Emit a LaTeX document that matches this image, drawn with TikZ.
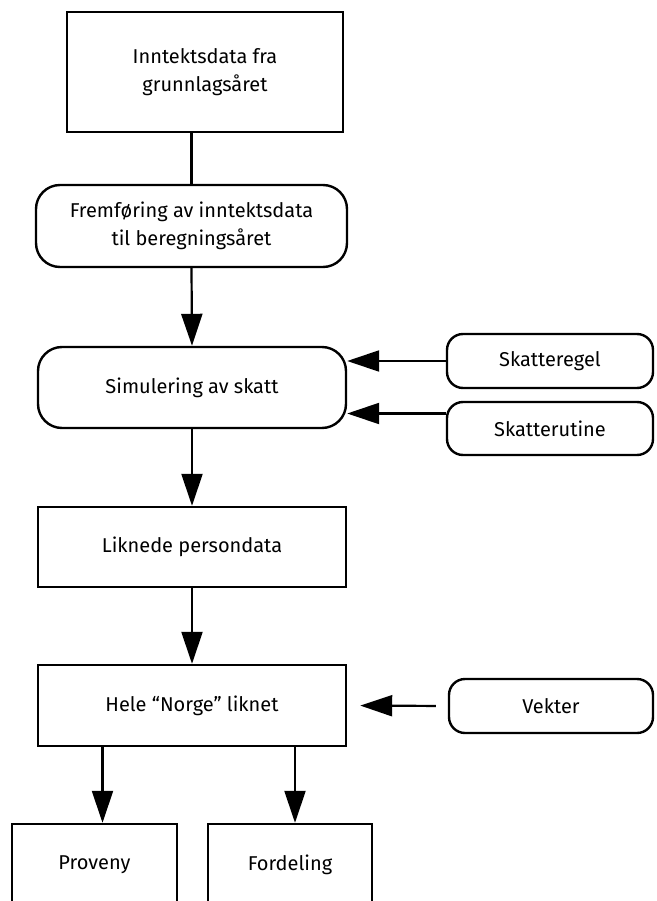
\documentclass[tikz,border=0pt]{standalone}
\usepackage{fontspec}
\setmainfont{Fira Sans}
\usetikzlibrary{arrows.meta, positioning}

\begin{document}
\begin{tikzpicture}[x=1pt, y=-1pt,
    box/.style={draw, line width=2.4pt, align=center, inner sep=0pt,
        font=\fontsize{20}{28}\selectfont},
    rbox/.style={box, rounded corners=24pt},
    sbox/.style={box, rounded corners=16pt},
    arr/.style={line width=2.2pt, -{Triangle[length=32pt, width=21pt]}}]
    \useasboundingbox (0, 0) rectangle (656, 901);

    % main column
    \node[box, minimum width=276pt, minimum height=120pt] (inn) at (205, 72)
        {Inntektsdata fra\\grunnlagsåret};
    \node[rbox, minimum width=311pt, minimum height=82pt] (frem) at (191.5, 226)
        {Fremføring av inntektsdata\\til beregningsåret};
    \node[rbox, minimum width=308pt, minimum height=81pt] (sim) at (192, 387.5)
        {Simulering av skatt};
    \node[box, minimum width=308pt, minimum height=80pt] (likn) at (192, 547)
        {Liknede persondata};
    \node[box, minimum width=308pt, minimum height=81pt] (hele) at (192, 705.5)
        {Hele “Norge” liknet};

    % inputs on the right
    \node[sbox, minimum width=206pt, minimum height=54pt] (regel) at (550, 361)
        {Skatteregel};
    \node[sbox, minimum width=206pt, minimum height=53pt] (rutine) at (550, 428.5)
        {Skatterutine};
    \node[sbox, minimum width=204pt, minimum height=54pt] (vekter) at (551, 706)
        {Vekter};

    % results, cut off by the page
    \node[box, minimum width=165pt, minimum height=82pt] (prov) at (94.5, 865)
        {Proveny};
    \node[box, minimum width=164pt, minimum height=82pt] (ford) at (290, 865)
        {Fordeling};

    \draw[line width=2.2pt] (frem.north |- inn.south) -- (frem.north);
    \draw[arr] (frem.south) -- (sim.north);
    \draw[arr] (sim.south) -- (likn.north);
    \draw[arr] (likn.south) -- (hele.north);
    \draw[arr] (regel.west) -- (regel.west -| sim.east);
    \draw[arr] ([yshift=15pt]rutine.west) -- ([yshift=15pt]rutine.west -| sim.east);
    \draw[arr, shorten <=12pt, shorten >=13pt] (vekter.west) -- (hele.east);
    \draw[arr] ([xshift=8pt]prov.north |- hele.south) -- ([xshift=8pt]prov.north);
    \draw[arr] ([xshift=5pt]ford.north |- hele.south) -- ([xshift=5pt]ford.north);
\end{tikzpicture}
\end{document}
